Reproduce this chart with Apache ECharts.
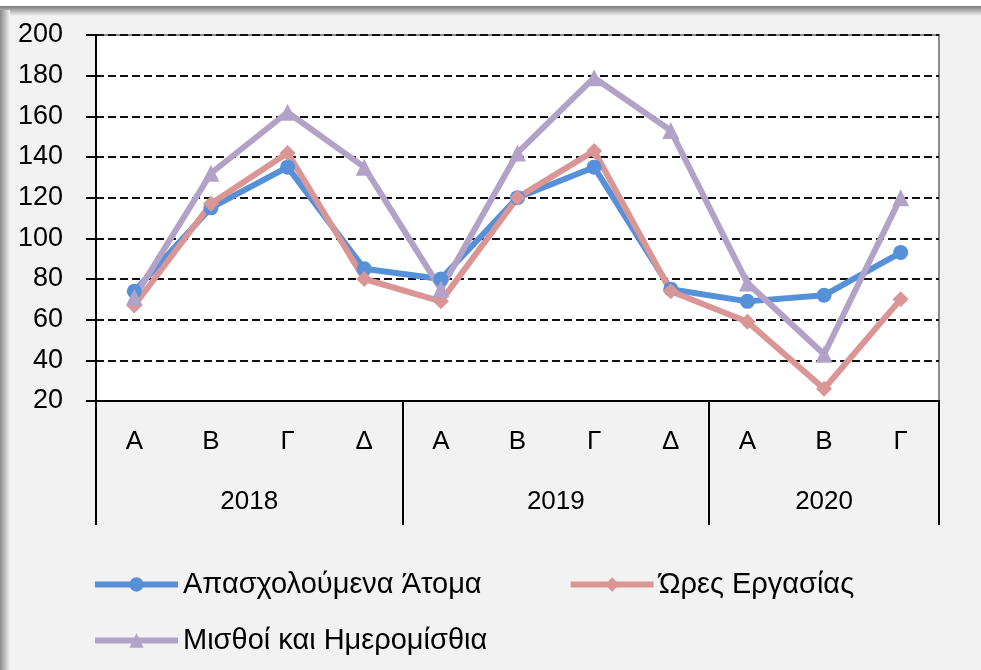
<!DOCTYPE html>
<html>
<head>
<meta charset="utf-8">
<script src="https://cdn.jsdelivr.net/npm/echarts@6/dist/echarts.min.js"></script>
<style>
  html, body { margin: 0; padding: 0; background: #f2f2f2; }
  #chart { width: 981px; height: 670px; }
</style>
</head>
<body>
<div id="chart"></div>
<script>
// τρίμηνα και έτη
var quarters = ['Α', 'Β', 'Γ', 'Δ', 'Α', 'Β', 'Γ', 'Δ', 'Α', 'Β', 'Γ'];
var years = ['2018', '2019', '2020'];
var yearBounds = [0, 4, 8, 11];
var yearCenters = [2, 6, 9.5];

// τιμές δεικτών
var atoma = [74, 115, 135, 85, 80, 120, 135, 75, 69, 72, 93];
var ores = [67, 117, 142, 80, 69, 120, 143, 74, 59, 26, 70];
var misthoi = [71, 132, 162, 135, 75, 142, 179, 153, 78, 43, 120];

var seriesNames = ['Απασχολούμενα Άτομα', 'Ώρες Εργασίας', 'Μισθοί και Ημερομίσθια'];

var font = 'Liberation Sans';
var chart = echarts.init(document.getElementById('chart'));

function lineSeries(name, data, color, symbol, size) {
    return {
        name: name,
        type: 'line',
        data: data,
        xAxisIndex: 0,
        symbol: symbol,
        symbolSize: size,
        itemStyle: { color: color },
        lineStyle: { color: color, width: 6 },
        z: 3
    };
}

var legendText = { fontFamily: font, fontSize: 29, color: '#000' };

var option = {
    backgroundColor: '#f2f2f2',
    animation: false,
    grid: {
        left: 96,
        right: 42,
        top: 35,
        bottom: 269,
        show: true,
        backgroundColor: '#ffffff',
        borderColor: '#8c8c8c',
        borderWidth: 2
    },
    legend: [{
        data: [seriesNames[0], seriesNames[1]],
        left: 87,
        top: 565,
        itemWidth: 83,
        itemHeight: 18,
        itemGap: 86,
        lineStyle: { width: 6 },
        textStyle: legendText
    }, {
        data: [seriesNames[2]],
        left: 87,
        top: 621,
        itemWidth: 83,
        itemHeight: 18,
        lineStyle: { width: 6 },
        textStyle: legendText
    }],
    xAxis: [{
        type: 'category',
        data: quarters,
        boundaryGap: true,
        axisLine: { lineStyle: { color: '#000', width: 2 } },
        axisTick: { length: 7, lineStyle: { color: '#000', width: 2 } },
        axisLabel: { margin: 28, fontFamily: font, fontSize: 26, color: '#000' },
        splitLine: { show: false }
    }, {
        type: 'value',
        min: 0,
        max: 11,
        position: 'bottom',
        axisLine: { show: false },
        splitLine: { show: false },
        axisTick: {
            show: true,
            customValues: yearBounds,
            length: 124,
            lineStyle: { color: '#000', width: 2 }
        },
        axisLabel: {
            customValues: yearCenters,
            margin: 88,
            fontFamily: font,
            fontSize: 26,
            color: '#000',
            formatter: function (v) {
                return years[yearCenters.indexOf(v)];
            }
        }
    }],
    yAxis: {
        type: 'value',
        min: 20,
        max: 200,
        interval: 20,
        axisLine: { show: true, lineStyle: { color: '#000', width: 2 } },
        axisTick: { show: true, length: 10, lineStyle: { color: '#000', width: 2 } },
        axisLabel: { margin: 33, fontFamily: font, fontSize: 27, color: '#000' },
        splitLine: { lineStyle: { color: '#111', width: 2, type: [8, 4] } }
    },
    series: [
        lineSeries(seriesNames[0], atoma, '#5590d9', 'circle', 15),
        lineSeries(seriesNames[1], ores, '#d99694', 'diamond', 16),
        lineSeries(seriesNames[2], misthoi, '#b3a2c7', 'triangle', 17)
    ],
    graphic: [{
        type: 'rect',
        shape: { x: 0, y: 0, width: 981, height: 8 },
        style: { fill: '#ffffff' },
        silent: true
    }, {
        type: 'rect',
        shape: { x: 0, y: 6, width: 981, height: 10 },
        style: {
            fill: new echarts.graphic.LinearGradient(0, 0, 0, 1, [
                { offset: 0, color: '#7a7a7a' },
                { offset: 1, color: '#f2f2f2' }
            ])
        },
        silent: true
    }, {
        type: 'rect',
        shape: { x: 0, y: 10, width: 10, height: 660 },
        style: {
            fill: new echarts.graphic.LinearGradient(0, 0, 1, 0, [
                { offset: 0, color: '#8a8a8a' },
                { offset: 1, color: '#f2f2f2' }
            ])
        },
        silent: true
    }]
};

chart.setOption(option);
</script>
</body>
</html>
